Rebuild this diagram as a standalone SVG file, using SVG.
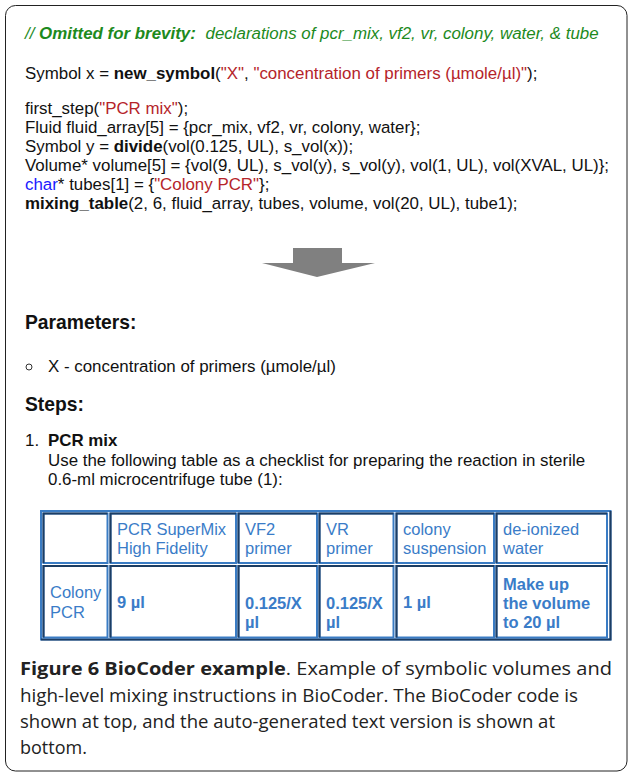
<svg xmlns="http://www.w3.org/2000/svg" width="630" height="775" viewBox="0 0 630 775">
<style>
.t{font-family:"Liberation Sans",Arial,sans-serif;font-size:16.9px;fill:#111}
.b{font-weight:bold}
.red{fill:#b5242a}
.blue{fill:#1a1aff}
.grn{fill:#1d8a1d;font-style:italic}
.h{font-family:"Liberation Sans",Arial,sans-serif;font-size:19.3px;font-weight:bold;fill:#111}
.ct{font-family:"Liberation Sans",Arial,sans-serif;font-size:16.5px;fill:#3a7cc8}
.cap{font-family:"Open Sans","Noto Sans",sans-serif;font-size:18px;fill:#222}
.cell{fill:#fff;stroke:#3a7cc4;stroke-width:2}
.cd{fill:none;stroke:#1c3d63;stroke-width:2}
</style>
<rect x="5.5" y="5.5" width="621.5" height="765.5" rx="10" fill="#fff" stroke="#222" stroke-width="1"/>

<g id="code">
<text class="t grn" x="25" y="39">// <tspan class="b">Omitted for brevity:</tspan><tspan dx="5"> declarations of pcr_mix, vf2, vr, colony, water, &amp; tube</tspan></text>
<text class="t" x="25" y="79">Symbol x = <tspan class="b">new_symbol</tspan>(<tspan class="red">"X"</tspan>, <tspan class="red">"concentration of primers (µmole/µl)"</tspan>);</text>
<text class="t" x="25" y="114">first_step(<tspan class="red">"PCR mix"</tspan>);</text>
<text class="t" x="25" y="133">Fluid fluid_array[5] = {pcr_mix, vf2, vr, colony, water};</text>
<text class="t" x="25" y="152">Symbol y = <tspan class="b">divide</tspan>(vol(0.125, UL), s_vol(x));</text>
<text class="t" x="25" y="171">Volume* volume[5] = {vol(9, UL), s_vol(y), s_vol(y), vol(1, UL), vol(XVAL, UL)};</text>
<text class="t" x="25" y="190"><tspan class="blue">char</tspan>* tubes[1] = {<tspan class="red">"Colony PCR"</tspan>};</text>
<text class="t" x="25" y="209"><tspan class="b">mixing_table</tspan>(2, 6, fluid_array, tubes, volume, vol(20, UL), tube1);</text>
</g>

<g id="arrow">
<polygon points="293,248 342,248 342,263 375,263 317,277 262,263 293,263" fill="#808080"/>
</g>

<g id="text">
<text class="h" x="25" y="329">Parameters:</text>
<circle cx="29" cy="367" r="3" fill="none" stroke="#333" stroke-width="1"/>
<text class="t" x="48" y="371.5">X - concentration of primers (µmole/µl)</text>
<text class="h" x="25" y="411">Steps:</text>
<text class="t" x="25" y="446">1.</text>
<text class="t b" x="48" y="446">PCR mix</text>
<text class="t" x="48" y="465.5">Use the following table as a checklist for preparing the reaction in sterile</text>
<text class="t" x="48" y="484.5">0.6-ml microcentrifuge tube (1):</text>
</g>

<g id="table">
<rect x="41" y="511" width="569.5" height="128.5" fill="#fff" stroke="#3a7cc4" stroke-width="2"/>
<polyline points="41,639.5 610.5,639.5 610.5,511" class="cd" stroke-width="2.5"/>
<g id="row1">
<rect class="cell" x="43.5" y="513.5" width="64" height="49.5"/><polyline class="cd" points="43.5,563 43.5,513.5 107.5,513.5"/>
<rect class="cell" x="110.5" y="513.5" width="125.5" height="49.5"/><polyline class="cd" points="110.5,563 110.5,513.5 236,513.5"/>
<rect class="cell" x="238.5" y="513.5" width="78.5" height="49.5"/><polyline class="cd" points="238.5,563 238.5,513.5 317,513.5"/>
<rect class="cell" x="319.5" y="513.5" width="74" height="49.5"/><polyline class="cd" points="319.5,563 319.5,513.5 393.5,513.5"/>
<rect class="cell" x="396.5" y="513.5" width="97.5" height="49.5"/><polyline class="cd" points="396.5,563 396.5,513.5 494,513.5"/>
<rect class="cell" x="496.5" y="513.5" width="110.5" height="49.5"/><polyline class="cd" points="496.5,563 496.5,513.5 607,513.5"/>
<text class="ct" x="117" y="535">PCR SuperMix</text><text class="ct" x="117" y="554">High Fidelity</text>
<text class="ct" x="245" y="535">VF2</text><text class="ct" x="245" y="554">primer</text>
<text class="ct" x="326" y="535">VR</text><text class="ct" x="326" y="554">primer</text>
<text class="ct" x="403" y="535">colony</text><text class="ct" x="403" y="554">suspension</text>
<text class="ct" x="503" y="535">de-ionized</text><text class="ct" x="503" y="554">water</text>
</g>
<g id="row2">
<rect class="cell" x="43.5" y="566" width="64" height="71.5"/><polyline class="cd" points="43.5,637.5 43.5,566 107.5,566"/>
<rect class="cell" x="110.5" y="566" width="125.5" height="71.5"/><polyline class="cd" points="110.5,637.5 110.5,566 236,566"/>
<rect class="cell" x="238.5" y="566" width="78.5" height="71.5"/><polyline class="cd" points="238.5,637.5 238.5,566 317,566"/>
<rect class="cell" x="319.5" y="566" width="74" height="71.5"/><polyline class="cd" points="319.5,637.5 319.5,566 393.5,566"/>
<rect class="cell" x="396.5" y="566" width="97.5" height="71.5"/><polyline class="cd" points="396.5,637.5 396.5,566 494,566"/>
<rect class="cell" x="496.5" y="566" width="110.5" height="71.5"/><polyline class="cd" points="496.5,637.5 496.5,566 607,566"/>
<text class="ct" x="50" y="598">Colony</text><text class="ct" x="50" y="617.5">PCR</text>
<text class="ct b" x="117" y="608">9 µl</text>
<text class="ct b" x="245" y="609">0.125/X</text><text class="ct b" x="245" y="628">µl</text>
<text class="ct b" x="326" y="609">0.125/X</text><text class="ct b" x="326" y="628">µl</text>
<text class="ct b" x="403" y="608">1 µl</text>
<text class="ct b" x="503" y="589.5">Make up</text><text class="ct b" x="503" y="608.5">the volume</text><text class="ct b" x="503" y="627.5">to 20 µl</text>
</g>
</g>

<g id="caption">
<text class="cap" x="20" y="675" textLength="592" lengthAdjust="spacingAndGlyphs"><tspan font-weight="bold">Figure 6 BioCoder example</tspan>. Example of symbolic volumes and</text>
<text class="cap" x="20" y="701.5" textLength="558" lengthAdjust="spacingAndGlyphs">high-level mixing instructions in BioCoder. The BioCoder code is</text>
<text class="cap" x="20" y="727.5" textLength="535" lengthAdjust="spacingAndGlyphs">shown at top, and the auto-generated text version is shown at</text>
<text class="cap" x="20" y="753.5">bottom.</text>
</g>
</svg>
